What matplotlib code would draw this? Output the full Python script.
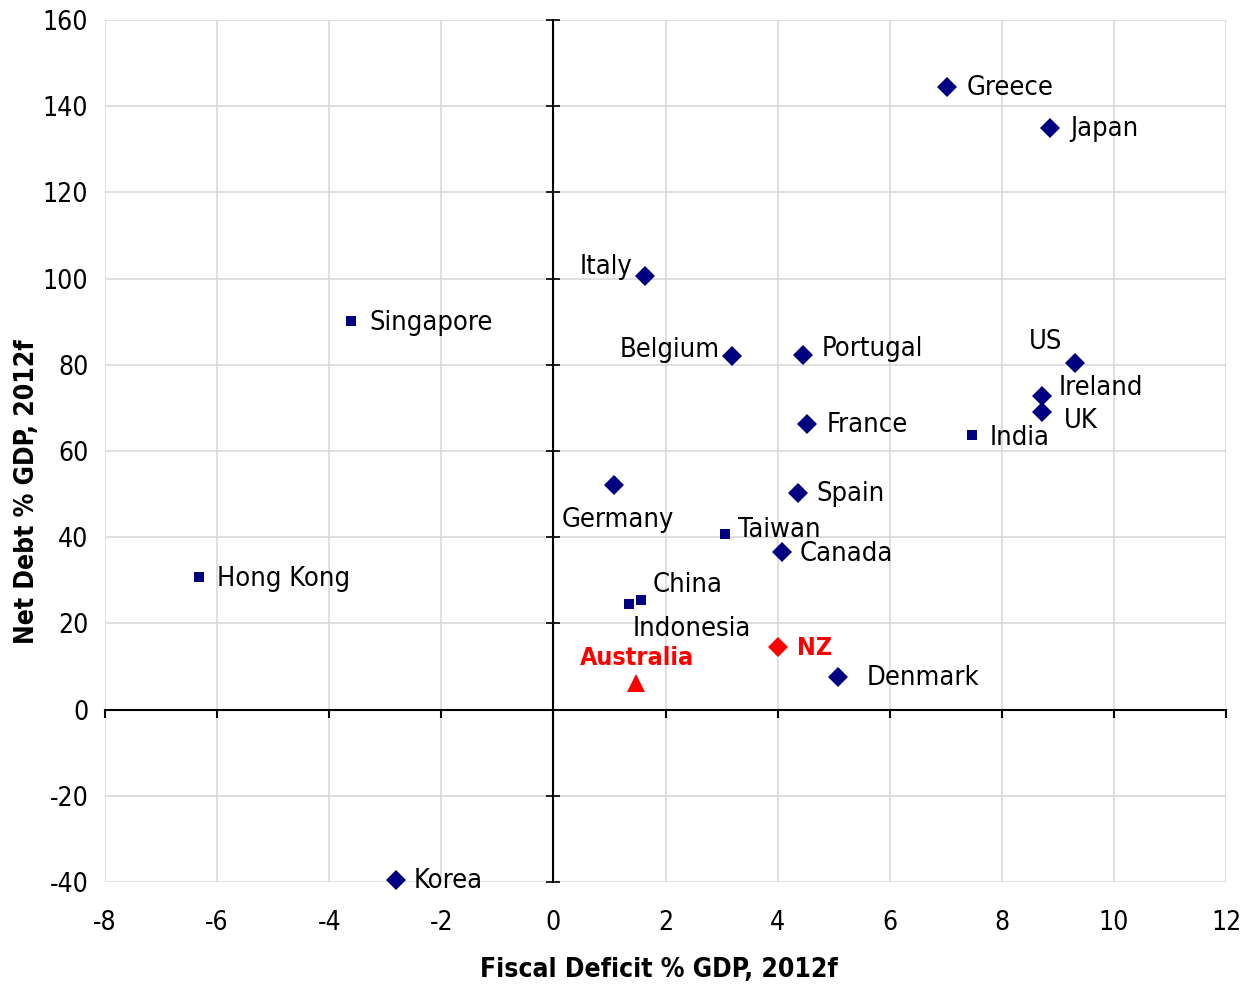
import matplotlib
matplotlib.use("Agg")
import matplotlib.pyplot as plt

# ---------------- data ----------------
countries = ["Greece", "Japan", "Italy", "Singapore", "Belgium", "Portugal", "US",
             "Ireland", "UK", "France", "India", "Germany", "Spain", "Taiwan",
             "Canada", "Hong Kong", "China", "Indonesia", "NZ", "Australia",
             "Denmark", "Korea"]
fiscal_deficit = [7.02, 8.86, 1.63, -3.61, 3.19, 4.45, 9.30,
                  8.72, 8.72, 4.52, 7.47, 1.08, 4.36, 3.06,
                  4.08, -6.32, 1.56, 1.35, 4.01, 1.47,
                  5.08, -2.81]
net_debt = [144.5, 134.9, 100.6, 90.1, 82.0, 82.2, 80.4,
            72.7, 69.0, 66.3, 63.8, 52.1, 50.2, 40.7,
            36.6, 30.8, 25.4, 24.5, 14.5, 6.2,
            7.6, -39.5]
group = ["advanced", "advanced", "advanced", "asia", "advanced", "advanced", "advanced",
         "advanced", "advanced", "advanced", "asia", "advanced", "advanced", "asia",
         "advanced", "asia", "asia", "asia", "nz", "australia",
         "advanced", "advanced"]
x_ticks = list(range(-8, 13, 2))
y_ticks = list(range(-40, 161, 20))
x_title = "Fiscal Deficit % GDP, 2012f"
y_title = "Net Debt % GDP, 2012f"

# ---------------- styles ----------------
NAVY = "#000080"
RED = "#FF0000"
group_style = {
    "advanced": dict(marker="D", ms=9.9, color=NAVY),
    "asia": dict(marker="s", ms=6.6, color=NAVY),
    "nz": dict(marker="D", ms=9.9, color=RED),
    "australia": dict(marker="^", ms=13, color=RED),
}
# label offsets in pixels (dx, dy downwards positive), horizontal alignment
label_pos = {
    "Greece": (20, 1, "left"), "Japan": (20, 1, "left"), "Italy": (-12, -9, "right"),
    "Singapore": (18, 2, "left"), "Belgium": (-12, -6, "right"), "Portugal": (19, -6, "left"),
    "US": (-12, -21, "right"), "Ireland": (16, -8, "left"), "UK": (22, 9, "left"),
    "France": (20, 1, "left"), "India": (18, 3, "left"), "Germany": (4, 35, "center"),
    "Spain": (19, 1, "left"), "Taiwan": (13, -4, "left"), "Canada": (18, 2, "left"),
    "Hong Kong": (18, 2, "left"), "China": (12, -15, "left"), "Indonesia": (4, 25, "left"),
    "NZ": (19, 1, "left"), "Australia": (1, -25, "center"), "Denmark": (28, 1, "left"),
    "Korea": (18, 1, "left"),
}

FONT = "DejaVu Sans"
STRETCH = "condensed"
plt.rcParams["font.family"] = [FONT]

fig = plt.figure(figsize=(12.46, 9.84), dpi=100)
rect = [105 / 1246, 102 / 984, 1121 / 1246, 862 / 984]
ax = fig.add_axes(rect)
ax.set_xlim(-8, 12)
ax.set_ylim(-40, 160)
ax.set_xticks(x_ticks)
ax.set_yticks(y_ticks)
ax.set_xticklabels([str(v) for v in x_ticks], fontsize=19, fontstretch=STRETCH)
ax.set_yticklabels([str(v) for v in y_ticks], fontsize=19, fontstretch=STRETCH)
ax.tick_params(axis="both", length=0)
ax.tick_params(axis="y", pad=12)
ax.tick_params(axis="x", pad=20)
for s in ax.spines.values():
    s.set_visible(False)
ax.grid(True, color="#D6D6D6", linewidth=1.1)
ax.set_axisbelow(True)
ax.set_xlabel(x_title, fontsize=19, fontweight="bold", fontstretch=STRETCH)
ax.set_ylabel(y_title, fontsize=19, fontweight="bold", fontstretch=STRETCH)
ax.xaxis.set_label_coords((658.5 - 105) / 1121, -(983 - 882) / 862)
ax.yaxis.set_label_coords((40 - 105) / 1121, (882 - 492) / 862)
ax.xaxis.label.set_va("bottom")

# overlay axes for zero-crossing axis lines
ax2 = fig.add_axes(rect, sharex=ax, sharey=ax)
ax2.patch.set_visible(False)
ax2.spines["left"].set_position(("data", 0))
ax2.spines["bottom"].set_position(("data", 0))
ax2.spines["top"].set_visible(False)
ax2.spines["right"].set_visible(False)
for k in ("left", "bottom"):
    ax2.spines[k].set_linewidth(1.5)
    ax2.spines[k].set_color("black")
ax2.tick_params(axis="x", direction="out", length=6, width=1.5, labelbottom=False)
ax2.tick_params(axis="y", direction="inout", length=10, width=1.2, labelleft=False)

for g, st in group_style.items():
    xs = [x for x, gg in zip(fiscal_deficit, group) if gg == g]
    ys = [y for y, gg in zip(net_debt, group) if gg == g]
    ax2.plot(xs, ys, linestyle="none", marker=st["marker"], ms=st["ms"],
             color=st["color"], mew=0, zorder=5, clip_on=False)

for name, x, y, g in zip(countries, fiscal_deficit, net_debt, group):
    dx, dy, ha = label_pos[name]
    hl = g in ("nz", "australia")
    ax2.annotate(name, (x, y), xytext=(dx * 0.72, -dy * 0.72), textcoords="offset points",
                 ha=ha, va="center", fontsize=19.5 if not hl else 18,
                 fontweight="bold" if hl else "normal",
                 color=RED if hl else "black", fontstretch=STRETCH, zorder=6)

fig.savefig("out.png", dpi=100)
